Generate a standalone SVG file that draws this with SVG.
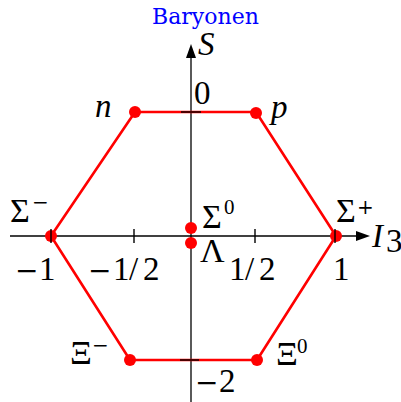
<svg xmlns="http://www.w3.org/2000/svg" width="401" height="402" viewBox="0 0 401 402">
<style>
.ax{stroke:#000;stroke-width:1.3;fill:none}
.tk{stroke:#000;stroke-width:1.4}
.hex{stroke:#ff0000;stroke-width:2.6;fill:none;stroke-linejoin:round}
.dot{fill:#ff0000}
.m{font-family:"Liberation Serif",serif;font-size:33px;fill:#000}
.g{font-size:34px}
.i{font-style:italic}
.sup{font-size:21px}
.mn{font-family:"DejaVu Serif",serif;font-size:28px}
.smn{font-family:"DejaVu Serif",serif;font-size:20px}
.title{font-family:"DejaVu Serif",serif;font-size:22px;fill:#0000ff}
</style>
<rect width="401" height="402" fill="#fff"/>
<text class="title" x="152" y="24">Baryonen</text>
<g id="connectors">
<line class="ax" x1="10" y1="236" x2="358" y2="236"/>
<polygon points="370,236 356,231 356,241" fill="#000"/>
<line class="ax" x1="191" y1="402" x2="191" y2="56"/>
<polygon points="191,44 186,58 196,58" fill="#000"/>
<polygon class="hex" points="135,112 256,112 336,236 257,360 130,360 51,236"/>
</g>
<g id="axis-labels">
<text class="m i" x="198" y="55">S</text>
<text class="m i" x="372" y="247" font-size="30">I</text>
<text class="m" x="386" y="252" font-size="19">3</text>
<text class="m" x="194" y="104">0</text>
<text class="m" y="280"><tspan class="mn" x="15">−</tspan><tspan x="39">1</tspan></text>
<text class="m" y="280"><tspan class="mn" x="88">−</tspan><tspan x="113">1</tspan><tspan x="129">/</tspan><tspan x="143">2</tspan></text>
<text class="m" y="280"><tspan x="229">1</tspan><tspan x="245">/</tspan><tspan x="259">2</tspan></text>
<text class="m" y="280" x="333">1</text>
<text class="m" y="392"><tspan class="mn" x="195">−</tspan><tspan x="219">2</tspan></text>
</g>
<g id="n"><circle class="dot" cx="135" cy="112" r="6"/><text class="m i" x="95" y="117">n</text></g>
<g id="p"><circle class="dot" cx="256" cy="113" r="6"/><text class="m i" x="271" y="118">p</text></g>
<g id="sigma-minus"><circle class="dot" cx="51" cy="236" r="6"/><text class="m g" x="10" y="222">Σ</text><text class="smn" x="32" y="209">−</text></g>
<g id="sigma-plus"><circle class="dot" cx="336" cy="236" r="6"/><text class="m g" x="336" y="222">Σ</text><text class="smn" x="357" y="214">+</text></g>
<g id="sigma-zero"><circle class="dot" cx="191" cy="228" r="6"/><text class="m g" x="202" y="228">Σ</text><text class="m sup" x="224" y="214">0</text></g>
<g id="lambda"><circle class="dot" cx="191" cy="243" r="6"/><text class="m g" x="200" y="262">Λ</text></g>
<g id="xi-minus"><circle class="dot" cx="130" cy="360" r="6"/><text class="m g" x="70" y="364">Ξ</text><text class="smn" x="92" y="352">−</text></g>
<g id="xi-zero"><circle class="dot" cx="257" cy="360" r="6"/><text class="m g" x="276" y="365">Ξ</text><text class="m sup" x="297" y="353">0</text></g>
<g id="ticks">
<line class="tk" x1="51" y1="229" x2="51" y2="243"/>
<line class="tk" x1="134" y1="229" x2="134" y2="243"/>
<line class="tk" x1="255" y1="229" x2="255" y2="243"/>
<line class="tk" x1="335" y1="229" x2="335" y2="243"/>
<line class="tk" x1="181" y1="112" x2="201" y2="112"/>
<line class="tk" x1="180" y1="360" x2="199" y2="360"/>
</g>
</svg>
